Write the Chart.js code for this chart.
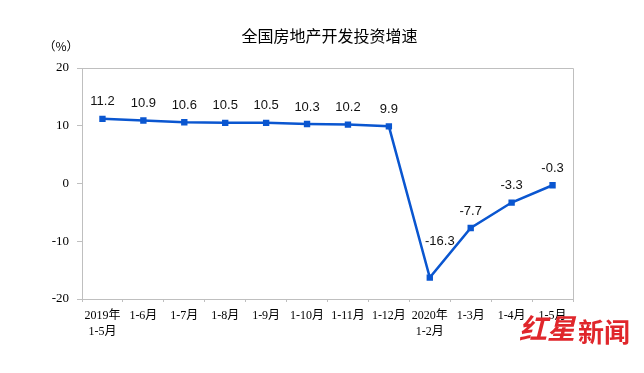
<!DOCTYPE html>
<html>
<head>
<meta charset="utf-8">
<script src="https://cdn.jsdelivr.net/npm/chart.js@4"></script>
<style>
html,body{margin:0;padding:0;background:#fff;}
#wrap{position:relative;width:644px;height:373px;}
</style>
</head>
<body>
<div id="wrap"><canvas id="c" width="644" height="373"></canvas></div>
<script>
const chartTitle = "全国房地产开发投资增速";
const unitLabel = "（%）";
const categories = [
  ["2019年", "1-5月"], "1-6月", "1-7月", "1-8月", "1-9月", "1-10月",
  "1-11月", "1-12月", ["2020年", "1-2月"], "1-3月", "1-4月", "1-5月"
];
const growthValues = [11.2, 10.9, 10.6, 10.5, 10.5, 10.3, 10.2, 9.9, -16.3, -7.7, -3.3, -0.3];
const yTicks = [-20, -10, 0, 10, 20];
const watermarkA = "红星";
const watermarkB = "新闻";

const AXIS_COLOR = "#bfbfbf";
const LINE_COLOR = "#0a56d0";
const SERIF = "'Liberation Serif', 'Noto Sans CJK SC', serif";

const decorPlugin = {
  id: "decor",
  beforeDraw(chart) {
    const ctx = chart.ctx;
    ctx.save();
    ctx.fillStyle = "#fff";
    ctx.fillRect(0, 0, chart.width, chart.height);
    ctx.restore();
  },
  afterDraw(chart) {
    const ctx = chart.ctx;
    const a = chart.chartArea;
    ctx.save();
    // frame top & right
    ctx.strokeStyle = AXIS_COLOR;
    ctx.lineWidth = 1;
    ctx.beginPath();
    ctx.moveTo(Math.round(a.left) + 0.5, Math.round(a.top) + 0.5);
    ctx.lineTo(Math.round(a.right) + 0.5, Math.round(a.top) + 0.5);
    ctx.lineTo(Math.round(a.right) + 0.5, Math.round(a.bottom) + 0.5);
    ctx.stroke();
    // title
    ctx.fillStyle = "#000";
    ctx.font = "16px 'Noto Sans CJK SC', sans-serif";
    ctx.textAlign = "center";
    ctx.textBaseline = "middle";
    ctx.fillText(chartTitle, (a.left + a.right) / 2 + 2, 36);
    // unit
    ctx.font = "12px 'Noto Sans CJK SC', sans-serif";
    ctx.fillText(unitLabel, 61, 46);
    // watermark
    ctx.fillStyle = "#e0262b";
    ctx.textAlign = "left";
    ctx.font = "italic bold 28px 'Noto Sans CJK SC', sans-serif";
    ctx.fillText(watermarkA, 519, 328);
    ctx.font = "bold 26px 'Noto Sans CJK SC', serif";
    ctx.fillText(watermarkB, 578, 332);
    ctx.restore();
  },
  afterDatasetsDraw(chart) {
    const ctx = chart.ctx;
    const meta = chart.getDatasetMeta(0);
    const data = chart.data.datasets[0].data;
    const minVal = Math.min(...data);
    ctx.save();
    ctx.fillStyle = "#111";
    ctx.font = "13px 'Liberation Sans', Arial, sans-serif";
    ctx.textAlign = "center";
    ctx.textBaseline = "middle";
    meta.data.forEach((pt, i) => {
      let dx = 0, dy = -17;
      if (data[i] === minVal) { dx = 10; dy = -36; }
      ctx.fillText(data[i].toFixed(1), pt.x + dx, pt.y + dy);
    });
    ctx.restore();
  }
};

new Chart(document.getElementById("c"), {
  type: "line",
  data: {
    labels: categories,
    datasets: [{
      data: growthValues,
      borderColor: LINE_COLOR,
      backgroundColor: LINE_COLOR,
      borderWidth: 2.5,
      pointStyle: "rect",
      pointRadius: 4.5,
      pointBorderWidth: 0,
      pointBackgroundColor: LINE_COLOR,
      tension: 0,
      fill: false
    }]
  },
  options: {
    responsive: false,
    animation: false,
    devicePixelRatio: 1,
    layout: { padding: { top: 68, right: 71, bottom: 0, left: 0 } },
    plugins: {
      legend: { display: false },
      title: { display: false },
      tooltip: { enabled: false }
    },
    scales: {
      x: {
        type: "category",
        offset: true,
        afterFit(s) { s.height = 74; },
        grid: {
          offset: true,
          drawOnChartArea: false,
          drawTicks: true,
          tickLength: 3,
          color: AXIS_COLOR
        },
        border: { display: true, color: AXIS_COLOR },
        ticks: {
          color: "#000",
          padding: 6,
          maxRotation: 0,
          autoSkip: false,
          font: { family: SERIF, size: 12, lineHeight: 1.3 }
        }
      },
      y: {
        min: -20,
        max: 20,
        afterFit(s) { s.width = 82; },
        afterBuildTicks(s) { s.ticks = yTicks.map(v => ({ value: v })); },
        grid: {
          drawOnChartArea: false,
          drawTicks: true,
          tickLength: 5,
          color: AXIS_COLOR
        },
        border: { display: true, color: AXIS_COLOR },
        ticks: {
          color: "#000",
          padding: 8,
          font: { family: SERIF, size: 13 }
        }
      }
    }
  },
  plugins: [decorPlugin]
});
</script>
</body>
</html>
